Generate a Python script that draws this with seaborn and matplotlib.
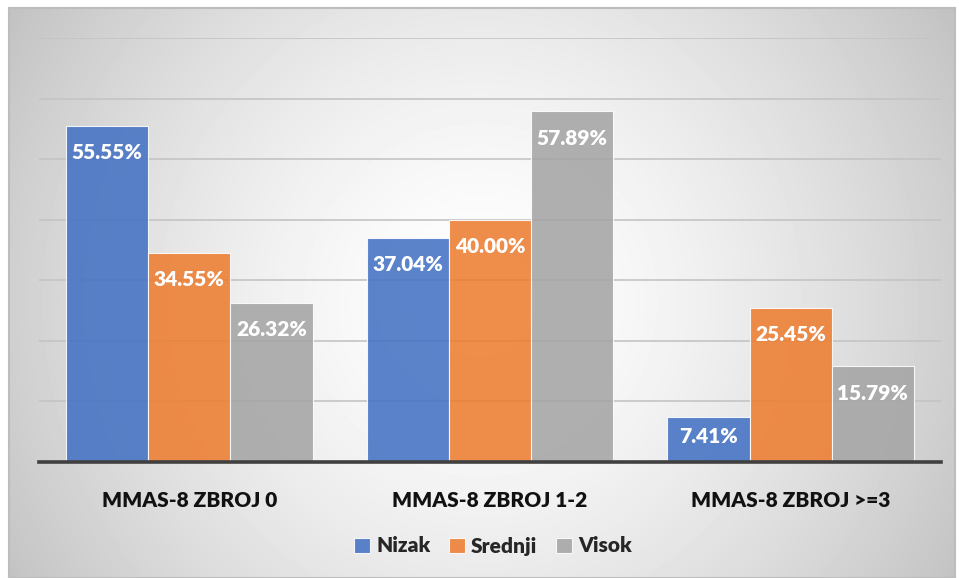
import matplotlib
matplotlib.use("Agg")
import matplotlib.pyplot as plt
import numpy as np
import pandas as pd
import seaborn as sns

# data
categories = ["MMAS-8 ZBROJ 0", "MMAS-8 ZBROJ 1-2", "MMAS-8 ZBROJ >=3"]
levels = ["Nizak", "Srednji", "Visok"]
nizak = [55.55, 37.04, 7.41]
srednji = [34.55, 40.00, 25.45]
visok = [26.32, 57.89, 15.79]
colors = ["#4472C4", "#ED7D31", "#A5A5A5"]

df = pd.DataFrame({
    "kategorija": categories * 3,
    "razina": [lv for lv in levels for _ in categories],
    "postotak": nizak + srednji + visok,
})

sns.set_style("white")
plt.rcParams["font.family"] = ["Lato", "DejaVu Sans"]

W, H = 959, 578
fig = plt.figure(figsize=(W / 100, H / 100), dpi=100)
fig.patch.set_facecolor("white")

# radial grey background inside the chart frame
bg = fig.add_axes([9 / W, 0, (955 - 9) / W, (H - 8) / H], zorder=0)
yy, xx = np.mgrid[8:H, 9:955]
d = np.sqrt((xx - 480) ** 2 + (yy - 300) ** 2) / 560
shade = 1 - (62 / 255) * np.clip(d, 0, 1.1) ** 1.5
bg.imshow(shade, cmap="gray", vmin=0, vmax=1, aspect="auto", interpolation="bilinear")
bg.set_xticks([])
bg.set_yticks([])
for s in bg.spines.values():
    s.set_color("#bdbdbd")
    s.set_linewidth(1.5)

# main plot
ax = fig.add_axes([39 / W, (H - 462) / H, 902 / W, 424 / H], zorder=1)
ax.patch.set_alpha(0)
sns.barplot(data=df, x="kategorija", y="postotak", hue="razina", hue_order=levels,
            palette=colors, saturation=1, width=0.82, alpha=0.88,
            edgecolor="white", linewidth=0.8, ax=ax, zorder=2)

ax.set_ylim(0, 70)
ax.set_xlim(-0.5, 2.5)
ax.set_yticks(np.arange(10, 71, 10))
ax.yaxis.grid(True, color="#c4c4c4", linewidth=1.2, zorder=0)
ax.set_axisbelow(True)
ax.tick_params(axis="y", left=False, labelleft=False)
ax.tick_params(axis="x", length=0, pad=21)
for lab in ax.get_xticklabels():
    lab.set_fontweight("heavy")
    lab.set_fontsize(15)
    lab.set_color("#111111")
ax.set_xlabel("")
ax.set_ylabel("")
for side in ["top", "left", "right"]:
    ax.spines[side].set_visible(False)
ax.spines["bottom"].set_color("#404040")
ax.spines["bottom"].set_linewidth(2.6)

# value labels inside bar tops
px_per_unit = 424 / 70
for cont, vals in zip(ax.containers, [nizak, srednji, visok]):
    for bar, v in zip(cont, vals):
        h_px = v * px_per_unit
        off = min(27, h_px / 2 - 3)
        ax.annotate(f"{v:.2f}%", (bar.get_x() + bar.get_width() / 2, v),
                    xytext=(0, -off * 0.72), textcoords="offset points",
                    ha="center", va="center", color="white",
                    fontsize=15, fontweight="heavy", zorder=3)

handles, labels = ax.get_legend_handles_labels()
ax.get_legend().remove()
fig.legend(handles, labels, loc="center", bbox_to_anchor=(0.514, (H - 546) / H),
           ncol=3, frameon=False, handlelength=0.75, handleheight=0.75,
           handletextpad=0.3, columnspacing=0.9,
           prop={"weight": "heavy", "size": 15})

fig.savefig("out.png", dpi=100)
